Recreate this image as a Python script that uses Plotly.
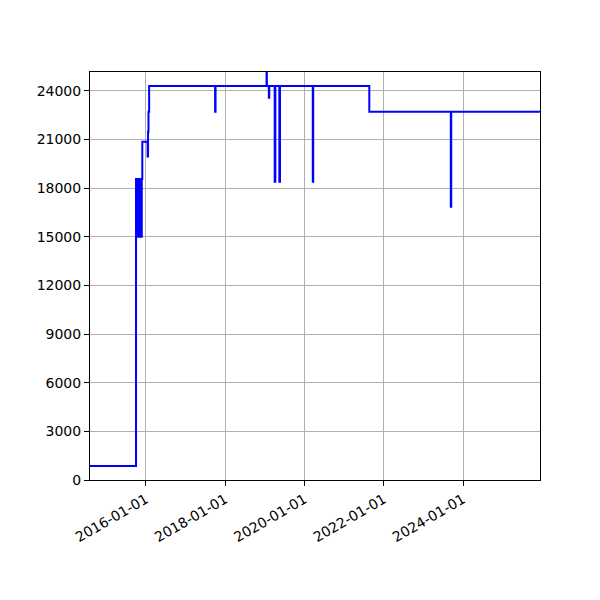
import plotly.graph_objects as go

# daily value series, only the change points are kept (value holds until next date)
dates = [
    "2014-08-03", "2015-10-01", "2015-10-05", "2015-10-08", "2015-10-14",
    "2015-10-17", "2015-10-24", "2015-10-27", "2015-11-05", "2015-11-08",
    "2015-11-20", "2015-11-23", "2015-11-28", "2016-01-16", "2016-01-20",
    "2016-01-24", "2016-01-30", "2017-09-29", "2017-10-03", "2019-01-16",
    "2019-01-19", "2019-02-06", "2019-02-10", "2019-04-01", "2019-04-07",
    "2019-05-14", "2019-05-20", "2020-03-17", "2020-03-21", "2021-08-20",
    "2023-09-10", "2023-09-14", "2025-12-10",
]
values = [
    864, 18570, 15000, 18570, 15000,
    18570, 15000, 18570, 15000, 18570,
    15000, 18570, 20870, 19950, 21490,
    22720, 24300, 22720, 24300, 25170,
    24300, 23580, 24300, 18400, 24300,
    18400, 24300, 18400, 24300, 22720,
    16860, 22720, 22720,
]
y_ticks = list(range(0, 24001, 3000))

fig = go.Figure()
fig.add_trace(go.Scatter(x=dates, y=values, mode="lines",
                         line=dict(color="blue", width=2, shape="hv"),
                         showlegend=False))

axis_style = dict(showline=True, mirror=True, linecolor="black", linewidth=1,
                  ticks="outside", ticklen=5, tickcolor="black", tickwidth=1,
                  showgrid=True, gridcolor="#b0b0b0", gridwidth=1,
                  zeroline=False)

# page is drawn with an 8px body offset, so margins are shifted to compensate
fig.update_layout(
    width=600, height=600,
    margin=dict(l=82, r=68, t=64, b=128),
    paper_bgcolor="white", plot_bgcolor="white",
    font=dict(family="DejaVu Sans", size=14, color="black"),
    xaxis=dict(range=[dates[0], dates[-1]], type="date",
               tick0="2016-01-01", dtick="M24", tickformat="%Y-%m-%d",
               tickangle=-30, **axis_style),
    yaxis=dict(range=[0, max(values)], tickvals=y_ticks, tickformat="d",
               **axis_style),
)

fig.write_html("out.html")
